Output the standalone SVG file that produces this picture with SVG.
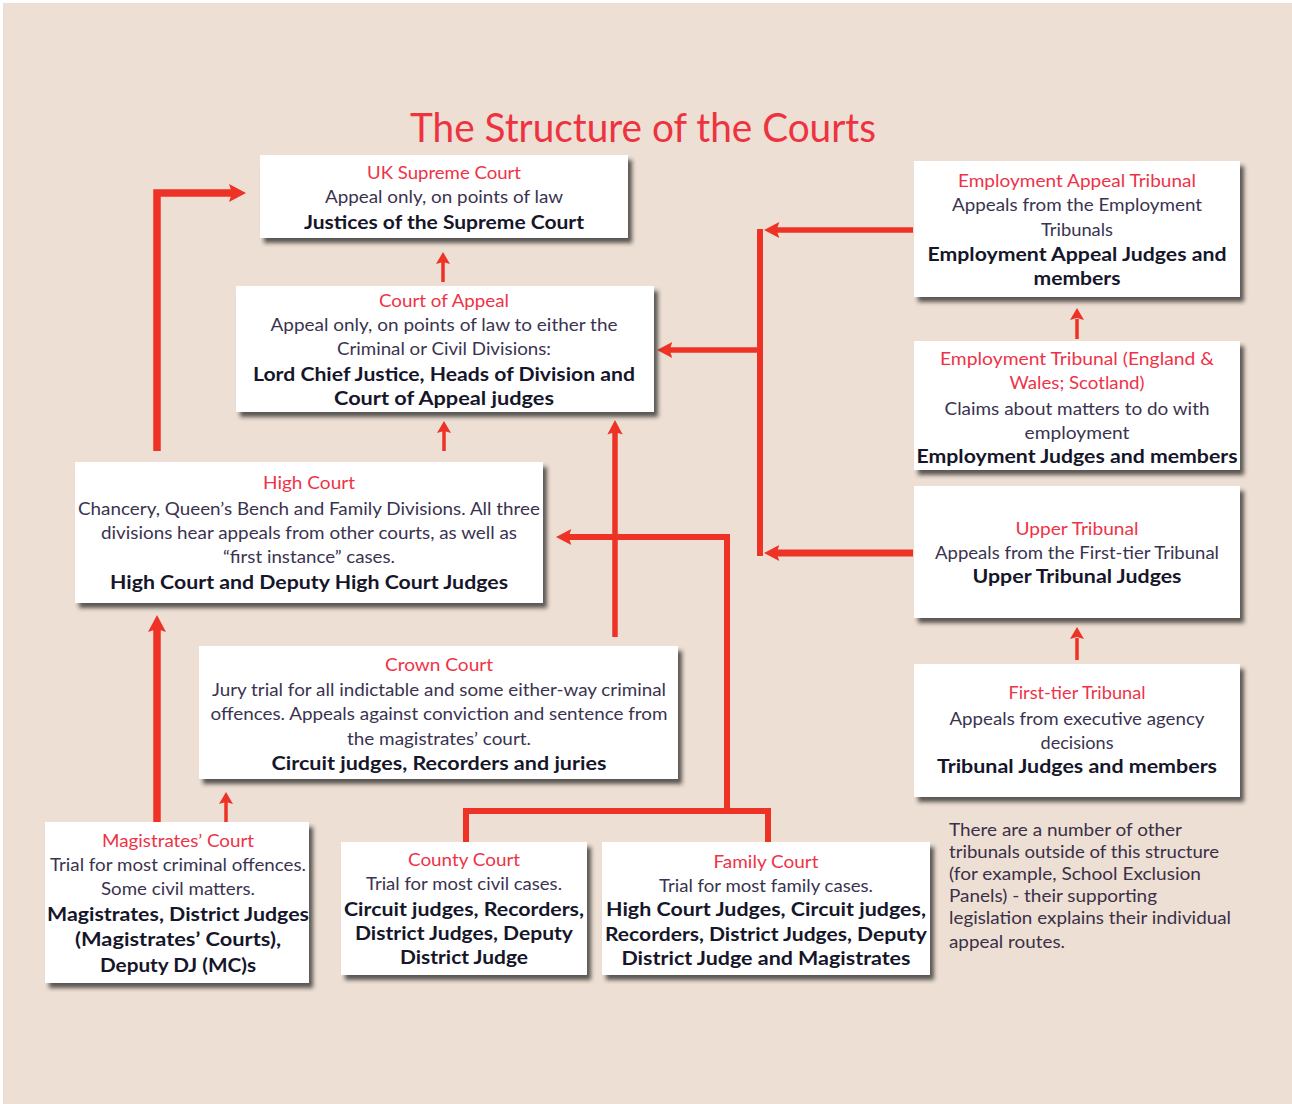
<svg xmlns="http://www.w3.org/2000/svg" xmlns:xlink="http://www.w3.org/1999/xlink" width="1292" height="1104" viewBox="0 0 1292 1104">
<style>
text{font-family:Lato,"Liberation Sans",sans-serif;text-anchor:middle}
.ttl{fill:#EE3347;font-size:18px}
.bd{fill:#3A3350;font-size:18px}
.bo{fill:#16162A;font-size:18px;font-weight:bold}
.nt{fill:#3A3048;font-size:17.5px;text-anchor:start}
.box{fill:#FFFFFF;filter:url(#sh)}
.ln{fill:none;stroke:#EE3226;stroke-linejoin:miter;stroke-linecap:butt}
.ah{fill:#EE3226}
</style>
<defs>
<filter id="sh" x="-10%" y="-10%" width="125%" height="130%">
<feDropShadow dx="4" dy="5" stdDeviation="2" flood-color="#2A2A2A" flood-opacity="0.75"/>
</filter>
<path id="big" d="M0,0 L-17,-9 L-14,0 L-17,9 Z"/>
<path id="sm" d="M0,0 L-12,-7 L-10,0 L-12,7 Z"/>
</defs>
<rect x="0" y="0" width="1292" height="1104" fill="#FFFFFF"/>
<rect x="3" y="3" width="1289" height="1101" fill="#EDDFD3"/>
<text x="643" y="142" fill="#EE3340" style="font-size:40px" textLength="466" lengthAdjust="spacingAndGlyphs">The Structure of the Courts</text>

<g id="connectors">
<path class="ln" stroke-width="7.5" d="M157,451 V193 H233"/>
<use href="#big" class="ah" transform="translate(246,193)"/>
<path class="ln" stroke-width="3.5" d="M443,282 V262"/>
<use href="#sm" class="ah" transform="translate(443,252) rotate(-90)"/>
<path class="ln" stroke-width="3.5" d="M444,451 V431"/>
<use href="#sm" class="ah" transform="translate(444,421) rotate(-90)"/>
<path class="ln" stroke-width="5.5" d="M615,637 V432"/>
<use href="#big" class="ah" transform="translate(615,420) rotate(-90) scale(0.85)"/>
<path class="ln" stroke-width="7.5" d="M157,822 V628"/>
<use href="#big" class="ah" transform="translate(157,615) rotate(-90)"/>
<path class="ln" stroke-width="3.5" d="M226,822 V802"/>
<use href="#sm" class="ah" transform="translate(226,792) rotate(-90)"/>
<path class="ln" stroke-width="6" d="M466,842 V811 H768 V842"/>
<path class="ln" stroke-width="6" d="M727,811 V537 H568"/>
<use href="#big" class="ah" transform="translate(556,537) rotate(180) scale(0.9)"/>
<path class="ln" stroke-width="6" d="M760,229 V556"/>
<path class="ln" stroke-width="5.5" d="M913,230 H776"/>
<use href="#big" class="ah" transform="translate(764,230) rotate(180) scale(0.9)"/>
<path class="ln" stroke-width="5.5" d="M760,350 H669"/>
<use href="#big" class="ah" transform="translate(657,350) rotate(180) scale(0.9)"/>
<path class="ln" stroke-width="7" d="M913,553 H776"/>
<use href="#big" class="ah" transform="translate(764,553) rotate(180) scale(0.9)"/>
<path class="ln" stroke-width="3.5" d="M1077,339 V319"/>
<use href="#sm" class="ah" transform="translate(1077,308) rotate(-90)"/>
<path class="ln" stroke-width="3.5" d="M1077,660 V638"/>
<use href="#sm" class="ah" transform="translate(1077,627) rotate(-90)"/>
</g>

<g id="supreme">
<rect class="box" x="260" y="155" width="368" height="83"/>
<text class="ttl" x="444" y="179" textLength="154" lengthAdjust="spacingAndGlyphs">UK Supreme Court</text>
<text class="bd" x="444" y="203" textLength="238" lengthAdjust="spacingAndGlyphs">Appeal only, on points of law</text>
<text class="bo" x="444" y="229" textLength="280" lengthAdjust="spacingAndGlyphs">Justices of the Supreme Court</text>
</g>

<g id="appeal">
<rect class="box" x="236" y="286" width="418" height="126"/>
<text class="ttl" x="444" y="307" textLength="130" lengthAdjust="spacingAndGlyphs">Court of Appeal</text>
<text class="bd" x="444" y="331" textLength="347" lengthAdjust="spacingAndGlyphs">Appeal only, on points of law to either the</text>
<text class="bd" x="444" y="355" textLength="214" lengthAdjust="spacingAndGlyphs">Criminal or Civil Divisions:</text>
<text class="bo" x="444" y="381" textLength="382" lengthAdjust="spacingAndGlyphs">Lord Chief Justice, Heads of Division and</text>
<text class="bo" x="444" y="405" textLength="220" lengthAdjust="spacingAndGlyphs">Court of Appeal judges</text>
</g>

<g id="high">
<rect class="box" x="75" y="462" width="468" height="141"/>
<text class="ttl" x="309" y="489" textLength="92" lengthAdjust="spacingAndGlyphs">High Court</text>
<text class="bd" x="309" y="515" textLength="462" lengthAdjust="spacingAndGlyphs">Chancery, Queen’s Bench and Family Divisions. All three</text>
<text class="bd" x="309" y="539" textLength="416" lengthAdjust="spacingAndGlyphs">divisions hear appeals from other courts, as well as</text>
<text class="bd" x="309" y="563" textLength="172" lengthAdjust="spacingAndGlyphs">“first instance” cases.</text>
<text class="bo" x="309" y="589" textLength="398" lengthAdjust="spacingAndGlyphs">High Court and Deputy High Court Judges</text>
</g>

<g id="crown">
<rect class="box" x="199" y="646" width="479" height="133"/>
<text class="ttl" x="439" y="671" textLength="108" lengthAdjust="spacingAndGlyphs">Crown Court</text>
<text class="bd" x="439" y="696" textLength="454" lengthAdjust="spacingAndGlyphs">Jury trial for all indictable and some either-way criminal</text>
<text class="bd" x="439" y="720" textLength="457" lengthAdjust="spacingAndGlyphs">offences. Appeals against conviction and sentence from</text>
<text class="bd" x="439" y="745" textLength="184" lengthAdjust="spacingAndGlyphs">the magistrates’ court.</text>
<text class="bo" x="439" y="770" textLength="335" lengthAdjust="spacingAndGlyphs">Circuit judges, Recorders and juries</text>
</g>

<g id="magistrates">
<rect class="box" x="45" y="822" width="264" height="161"/>
<text class="ttl" x="178" y="847" textLength="152" lengthAdjust="spacingAndGlyphs">Magistrates’ Court</text>
<text class="bd" x="178" y="871" textLength="256" lengthAdjust="spacingAndGlyphs">Trial for most criminal offences.</text>
<text class="bd" x="178" y="895" textLength="154" lengthAdjust="spacingAndGlyphs">Some civil matters.</text>
<text class="bo" x="178" y="921" textLength="262" lengthAdjust="spacingAndGlyphs">Magistrates, District Judges</text>
<text class="bo" x="178" y="946" textLength="206" lengthAdjust="spacingAndGlyphs">(Magistrates’ Courts),</text>
<text class="bo" x="178" y="972" textLength="156" lengthAdjust="spacingAndGlyphs">Deputy DJ (MC)s</text>
</g>

<g id="county">
<rect class="box" x="341" y="842" width="246" height="133"/>
<text class="ttl" x="464" y="866" textLength="112" lengthAdjust="spacingAndGlyphs">County Court</text>
<text class="bd" x="464" y="890" textLength="196" lengthAdjust="spacingAndGlyphs">Trial for most civil cases.</text>
<text class="bo" x="464" y="916" textLength="240" lengthAdjust="spacingAndGlyphs">Circuit judges, Recorders,</text>
<text class="bo" x="464" y="940" textLength="218" lengthAdjust="spacingAndGlyphs">District Judges, Deputy</text>
<text class="bo" x="464" y="964" textLength="128" lengthAdjust="spacingAndGlyphs">District Judge</text>
</g>

<g id="family">
<rect class="box" x="602" y="842" width="328" height="133"/>
<text class="ttl" x="766" y="868" textLength="105" lengthAdjust="spacingAndGlyphs">Family Court</text>
<text class="bd" x="766" y="892" textLength="214" lengthAdjust="spacingAndGlyphs">Trial for most family cases.</text>
<text class="bo" x="766" y="916" textLength="320" lengthAdjust="spacingAndGlyphs">High Court Judges, Circuit judges,</text>
<text class="bo" x="766" y="941" textLength="322" lengthAdjust="spacingAndGlyphs">Recorders, District Judges, Deputy</text>
<text class="bo" x="766" y="965" textLength="289" lengthAdjust="spacingAndGlyphs">District Judge and Magistrates</text>
</g>

<g id="eat">
<rect class="box" x="914" y="161" width="326" height="136"/>
<text class="ttl" x="1077" y="187" textLength="238" lengthAdjust="spacingAndGlyphs">Employment Appeal Tribunal</text>
<text class="bd" x="1077" y="211" textLength="250" lengthAdjust="spacingAndGlyphs">Appeals from the Employment</text>
<text class="bd" x="1077" y="236" textLength="72" lengthAdjust="spacingAndGlyphs">Tribunals</text>
<text class="bo" x="1077" y="261" textLength="299" lengthAdjust="spacingAndGlyphs">Employment Appeal Judges and</text>
<text class="bo" x="1077" y="285" textLength="87" lengthAdjust="spacingAndGlyphs">members</text>
</g>

<g id="et">
<rect class="box" x="914" y="341" width="326" height="129"/>
<text class="ttl" x="1077" y="365" textLength="274" lengthAdjust="spacingAndGlyphs">Employment Tribunal (England &amp;</text>
<text class="ttl" x="1077" y="389" textLength="135" lengthAdjust="spacingAndGlyphs">Wales; Scotland)</text>
<text class="bd" x="1077" y="415" textLength="265" lengthAdjust="spacingAndGlyphs">Claims about matters to do with</text>
<text class="bd" x="1077" y="439" textLength="105" lengthAdjust="spacingAndGlyphs">employment</text>
<text class="bo" x="1077" y="463" textLength="321" lengthAdjust="spacingAndGlyphs">Employment Judges and members</text>
</g>

<g id="upper">
<rect class="box" x="914" y="486" width="326" height="132"/>
<text class="ttl" x="1077" y="535" textLength="123" lengthAdjust="spacingAndGlyphs">Upper Tribunal</text>
<text class="bd" x="1077" y="559" textLength="284" lengthAdjust="spacingAndGlyphs">Appeals from the First-tier Tribunal</text>
<text class="bo" x="1077" y="583" textLength="209" lengthAdjust="spacingAndGlyphs">Upper Tribunal Judges</text>
</g>

<g id="firsttier">
<rect class="box" x="914" y="664" width="326" height="133"/>
<text class="ttl" x="1077" y="699" textLength="137" lengthAdjust="spacingAndGlyphs">First-tier Tribunal</text>
<text class="bd" x="1077" y="725" textLength="255" lengthAdjust="spacingAndGlyphs">Appeals from executive agency</text>
<text class="bd" x="1077" y="749" textLength="73" lengthAdjust="spacingAndGlyphs">decisions</text>
<text class="bo" x="1077" y="773" textLength="280" lengthAdjust="spacingAndGlyphs">Tribunal Judges and members</text>
</g>

<g id="note">
<text class="nt" x="949" y="836" textLength="233" lengthAdjust="spacingAndGlyphs">There are a number of other</text>
<text class="nt" x="949" y="858" textLength="270" lengthAdjust="spacingAndGlyphs">tribunals outside of this structure</text>
<text class="nt" x="949" y="880" textLength="252" lengthAdjust="spacingAndGlyphs">(for example, School Exclusion</text>
<text class="nt" x="949" y="902" textLength="208" lengthAdjust="spacingAndGlyphs">Panels) - their supporting</text>
<text class="nt" x="949" y="924" textLength="282" lengthAdjust="spacingAndGlyphs">legislation explains their individual</text>
<text class="nt" x="949" y="948" textLength="116" lengthAdjust="spacingAndGlyphs">appeal routes.</text>
</g>
</svg>
